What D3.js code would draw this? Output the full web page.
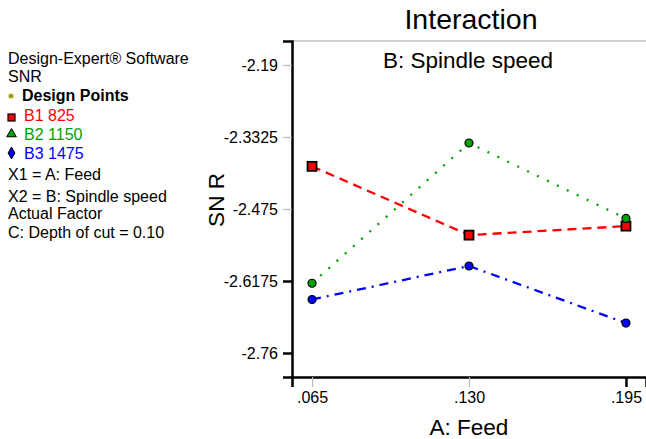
<!DOCTYPE html>
<html>
<head>
<meta charset="utf-8">
<script src="https://cdn.jsdelivr.net/npm/d3@7/dist/d3.min.js"></script>
<style>
  body { margin: 0; background: #fff; }
  svg text { font-family: "Liberation Sans", Arial, sans-serif; }
  .axis text { font-size: 16px; fill: #000; }
</style>
</head>
<body>
<div id="chart"></div>
<script>
// factor A levels (Feed)
const feedLevels = [0.065, 0.130, 0.195];
const feedLabels = [".065", ".130", ".195"];
const yTicks = [-2.19, -2.3325, -2.475, -2.6175, -2.76];
const yTickLabels = ["-2.19", "-2.3325", "-2.475", "-2.6175", "-2.76"];

// SNR per spindle speed level
const b1 = [-2.3906, -2.5267, -2.5089];
const b2 = [-2.6220, -2.3444, -2.4937];
const b3 = [-2.6541, -2.5878, -2.7008];

const seriesNames = ["B1 825", "B2 1150", "B3 1475"];

const width = 646, height = 439;
const margin = { top: 41, right: 0, bottom: 62, left: 292 };

const svg = d3.select("#chart").append("svg")
  .attr("width", width)
  .attr("height", height);

const x = d3.scaleLinear()
  .domain([0.0567, 0.2033])
  .range([margin.left, width - margin.right]);

const y = d3.scaleLinear()
  .domain([-2.8075, -2.1425])
  .range([height - margin.bottom, margin.top]);

// top frame line (grey)
svg.append("line")
  .attr("x1", margin.left).attr("x2", width)
  .attr("y1", margin.top).attr("y2", margin.top)
  .attr("stroke", "#c0c0c0").attr("stroke-width", 1.5);

// y axis
const yAxis = svg.append("g")
  .attr("class", "axis")
  .attr("transform", `translate(${margin.left},0)`)
  .call(d3.axisLeft(y).tickValues(yTicks).tickSize(9).tickPadding(5)
    .tickFormat((d, i) => yTickLabels[i]));
yAxis.select(".domain").attr("stroke", "#000").attr("stroke-width", 2.5);
yAxis.selectAll(".tick line")
  .attr("stroke", (d, i) => i < 3 ? "#b8b8b8" : "#000")
  .attr("stroke-width", (d, i) => i < 3 ? 1.2 : 2.5);

// x axis
const xAxis = svg.append("g")
  .attr("class", "axis")
  .attr("transform", `translate(0,${height - margin.bottom})`)
  .call(d3.axisBottom(x).tickValues(feedLevels).tickSize(10)
    .tickFormat((d, i) => feedLabels[i]));
xAxis.select(".domain").attr("stroke", "#000").attr("stroke-width", 2.5);
xAxis.selectAll(".tick line")
  .attr("stroke", (d, i) => i < 2 ? "#b8b8b8" : "#000")
  .attr("stroke-width", (d, i) => i < 2 ? 1.2 : 2.5);
xAxis.selectAll(".tick text")
  .attr("y", 26).attr("dy", 0);

// titles
svg.append("text")
  .attr("x", 471).attr("y", 29)
  .attr("text-anchor", "middle").style("font-size", "28.5px")
  .text("Interaction");
svg.append("text")
  .attr("x", 468).attr("y", 68)
  .attr("text-anchor", "middle").style("font-size", "22.5px")
  .text("B: Spindle speed");
svg.append("text")
  .attr("x", 469).attr("y", 435)
  .attr("text-anchor", "middle").style("font-size", "22.5px")
  .text("A: Feed");
svg.append("text")
  .attr("transform", "translate(224,200) rotate(-90)")
  .attr("text-anchor", "middle").style("font-size", "22.5px")
  .text("SN R");

// lines
const line = d3.line()
  .x((d, i) => x(feedLevels[i]))
  .y(d => y(d));

const series = [
  { name: seriesNames[0], values: b1, color: "#ff0000", dash: "9,6" },
  { name: seriesNames[1], values: b2, color: "#00a000", dash: "2,9" },
  { name: seriesNames[2], values: b3, color: "#0000ff", dash: "9,6,2,6" }
];

series.forEach(s => {
  svg.append("path")
    .datum(s.values)
    .attr("d", line)
    .attr("fill", "none")
    .attr("stroke", s.color)
    .attr("stroke-width", 2.3)
    .attr("stroke-dasharray", s.dash);
});

// design points
series.forEach((s, k) => {
  const g = svg.append("g");
  if (k === 0) {
    g.selectAll("rect").data(s.values).enter().append("rect")
      .attr("x", (d, i) => x(feedLevels[i]) - 4.5)
      .attr("y", d => y(d) - 4.5)
      .attr("width", 9).attr("height", 9)
      .attr("fill", s.color).attr("stroke", "#000").attr("stroke-width", 1.8);
  } else {
    g.selectAll("circle").data(s.values).enter().append("circle")
      .attr("cx", (d, i) => x(feedLevels[i]))
      .attr("cy", d => y(d))
      .attr("r", 4)
      .attr("fill", s.color).attr("stroke", "#000").attr("stroke-width", 1.2);
  }
});

// legend block
const legend = svg.append("g").style("font-size", "16px");
legend.append("text").attr("x", 8).attr("y", 64).text("Design-Expert\u00AE Software");
legend.append("text").attr("x", 8).attr("y", 82).text("SNR");
legend.append("circle").attr("cx", 11).attr("cy", 96).attr("r", 2.5).attr("fill", "#a0a000");
legend.append("text").attr("x", 22).attr("y", 101).attr("font-weight", "bold").text("Design Points");

legend.append("rect").attr("x", 8).attr("y", 114).attr("width", 7).attr("height", 7)
  .attr("fill", "#ff0000").attr("stroke", "#000").attr("stroke-width", 1.2);
legend.append("path")
  .attr("d", d3.symbol().type(d3.symbolTriangle).size(40)())
  .attr("transform", "translate(11.5,134)")
  .attr("fill", "#00a000").attr("stroke", "#000").attr("stroke-width", 1);
legend.append("path")
  .attr("d", d3.symbol().type(d3.symbolDiamond).size(40)())
  .attr("transform", "translate(11.5,153)")
  .attr("fill", "#0000ff").attr("stroke", "#000").attr("stroke-width", 1);

legend.append("text").attr("x", 24).attr("y", 121).attr("fill", "#ff0000").text(seriesNames[0]);
legend.append("text").attr("x", 24).attr("y", 140).attr("fill", "#00a000").text(seriesNames[1]);
legend.append("text").attr("x", 24).attr("y", 159).attr("fill", "#0000ff").text(seriesNames[2]);

legend.append("text").attr("x", 8).attr("y", 180).text("X1 = A: Feed");
legend.append("text").attr("x", 8).attr("y", 202).text("X2 = B: Spindle speed");
legend.append("text").attr("x", 8).attr("y", 219).text("Actual Factor");
legend.append("text").attr("x", 8).attr("y", 238).text("C: Depth of cut = 0.10");
</script>
</body>
</html>
